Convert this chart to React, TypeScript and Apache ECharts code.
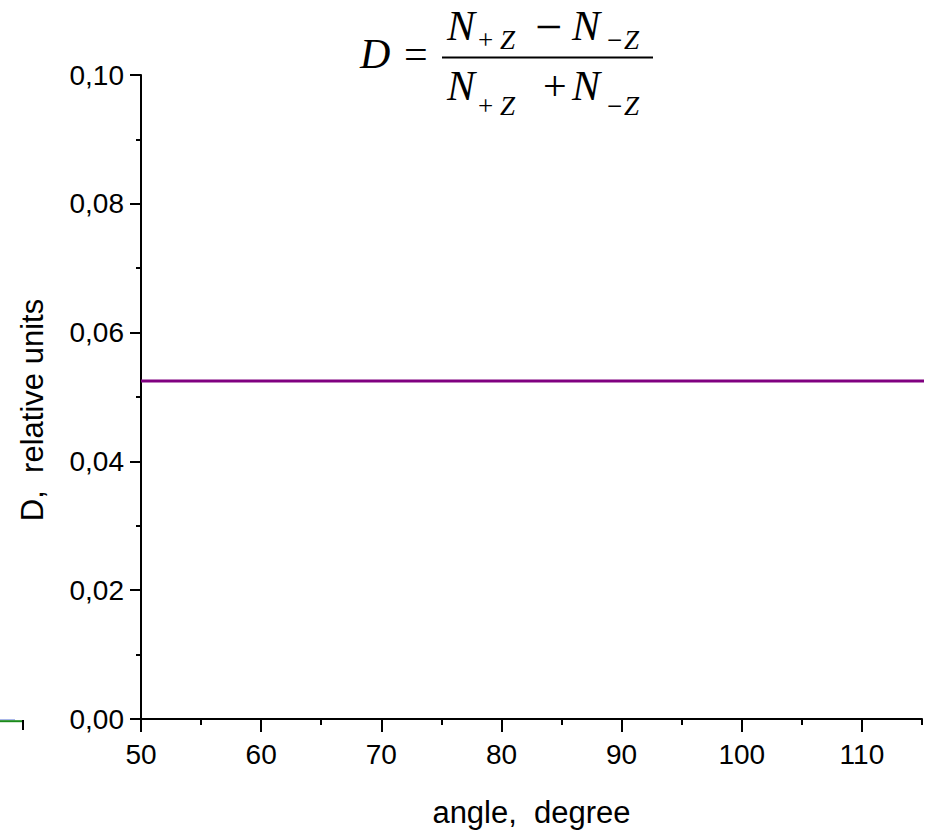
import React, { useEffect, useRef } from "react";
import * as echarts from "echarts";

// Angle range (degrees) and the measured asymmetry D
const angles: number[] = [50, 115.6];
const asymmetry: number[] = [0.0525, 0.0525];

// Tick values
const xMajorTicks: number[] = [50, 60, 70, 80, 90, 100, 110];
const yTickStep = 0.02;

const W = 929;
const H = 833;

const SERIF = "'Liberation Serif', 'Times New Roman', serif";
const SANS = "'Liberation Sans', Arial, sans-serif";

type Glyph = { t: string; x: number; y: number; size: number; italic?: boolean };

// Pieces of the formula  D = (N+Z − N−Z) / (N+Z + N−Z)
const BIG = 42;
const SUB = 27;
const NUM_Y = 26.3;
const NUM_SUB_Y = 39.8;
const DEN_Y = 85.8;
const DEN_SUB_Y = 105.8;

const formula: Glyph[] = [
  { t: "D", x: 360, y: 54, size: BIG, italic: true },
  { t: "=", x: 404, y: 54, size: BIG },
  // numerator
  { t: "N", x: 447, y: NUM_Y, size: BIG, italic: true },
  { t: "+", x: 478, y: NUM_SUB_Y, size: SUB },
  { t: "Z", x: 500, y: NUM_SUB_Y, size: SUB, italic: true },
  { t: "\u2212", x: 535, y: NUM_Y, size: 48 },
  { t: "N", x: 572, y: NUM_Y, size: BIG, italic: true },
  { t: "\u2212", x: 607, y: NUM_SUB_Y, size: SUB },
  { t: "Z", x: 624, y: NUM_SUB_Y, size: SUB, italic: true },
  // denominator
  { t: "N", x: 447, y: DEN_Y, size: BIG, italic: true },
  { t: "+", x: 478, y: DEN_SUB_Y, size: SUB },
  { t: "Z", x: 500, y: DEN_SUB_Y, size: SUB, italic: true },
  { t: "+", x: 543, y: DEN_Y, size: BIG },
  { t: "N", x: 572, y: DEN_Y, size: BIG, italic: true },
  { t: "\u2212", x: 607, y: DEN_SUB_Y, size: SUB },
  { t: "Z", x: 624, y: DEN_SUB_Y, size: SUB, italic: true },
];

export default function App() {
  const ref = useRef<HTMLDivElement>(null);

  useEffect(() => {
    if (!ref.current) return;
    const chart = echarts.init(ref.current, null, { renderer: "svg" });

    const comma = (v: number) => v.toFixed(2).replace(".", ",");

    const formulaGraphics: any[] = formula.map((g) => ({
      type: "text",
      x: g.x,
      y: g.y,
      silent: true,
      style: {
        text: g.t,
        fill: "#000",
        font: `${g.italic ? "italic " : ""}${g.size}px ${SERIF}`,
        align: "left",
        verticalAlign: "middle",
      },
    }));

    chart.setOption({
      animation: false,
      backgroundColor: "#ffffff",
      grid: { left: 141, right: 7, top: 75, bottom: 113, containLabel: false },
      xAxis: [
        {
          type: "value",
          position: "bottom",
          min: 50,
          max: 115,
          interval: 5,
          name: "angle,  degree",
          nameLocation: "middle",
          nameGap: 78,
          nameTextStyle: { fontFamily: SANS, fontSize: 31, color: "#000" },
          axisLine: { show: true, onZero: false, lineStyle: { color: "#000", width: 2 } },
          axisTick: { show: true, inside: false, length: 6, lineStyle: { color: "#000", width: 2 } },
          axisLabel: {
            show: true,
            margin: 21,
            fontFamily: SANS,
            fontSize: 28,
            color: "#000",
            formatter: (v: number) => (xMajorTicks.includes(v) ? String(v) : ""),
          },
          splitLine: { show: false },
        },
        {
          // long ticks at every 10 degrees
          type: "value",
          position: "bottom",
          min: 50,
          max: 115,
          interval: 10,
          axisLine: { show: false },
          axisTick: {
            show: true,
            inside: false,
            length: 13,
            customValues: xMajorTicks,
            lineStyle: { color: "#000", width: 2 },
          },
          axisLabel: { show: false },
          splitLine: { show: false },
        },
      ],
      yAxis: {
        type: "value",
        min: 0,
        max: 0.1,
        interval: yTickStep,
        name: "D,  relative units",
        nameLocation: "middle",
        nameGap: 93,
        nameTextStyle: {
          fontFamily: SANS,
          fontSize: 31,
          color: "#000",
          padding: [0, 26, 0, 0],
        },
        axisLine: { show: true, onZero: false, lineStyle: { color: "#000", width: 2 } },
        axisTick: { show: true, inside: false, length: 11, lineStyle: { color: "#000", width: 2 } },
        minorTick: { show: true, splitNumber: 2, length: 5, lineStyle: { color: "#000", width: 2 } },
        axisLabel: {
          margin: 17,
          fontFamily: SANS,
          fontSize: 28,
          color: "#000",
          formatter: (v: number) => comma(v),
        },
        splitLine: { show: false },
        minorSplitLine: { show: false },
      },
      series: [
        {
          type: "line",
          xAxisIndex: 0,
          data: angles.map((a, i) => [a, asymmetry[i]]),
          showSymbol: false,
          clip: false,
          lineStyle: { color: "#800080", width: 3 },
        },
      ],
      graphic: [
        ...formulaGraphics,
        {
          type: "line",
          silent: true,
          shape: { x1: 442, y1: 57.5, x2: 653, y2: 57.5 },
          style: { stroke: "#000", lineWidth: 2 },
        },
        // edge of a neighbouring legend box
        {
          type: "line",
          silent: true,
          shape: { x1: 0, y1: 719.8, x2: 15, y2: 719.8 },
          style: { stroke: "#3355cc", lineWidth: 1, opacity: 0.6 },
        },
        {
          type: "line",
          silent: true,
          shape: { x1: 0, y1: 721.2, x2: 24, y2: 721.2 },
          style: { stroke: "#1a8a1a", lineWidth: 2 },
        },
        {
          type: "line",
          silent: true,
          shape: { x1: 23, y1: 720, x2: 23, y2: 730 },
          style: { stroke: "#000", lineWidth: 2 },
        },
      ],
    });

    return () => chart.dispose();
  }, []);

  return (
    <div
      ref={ref}
      style={{ position: "absolute", left: 0, top: 0, width: W, height: H, background: "#fff" }}
    />
  );
}
